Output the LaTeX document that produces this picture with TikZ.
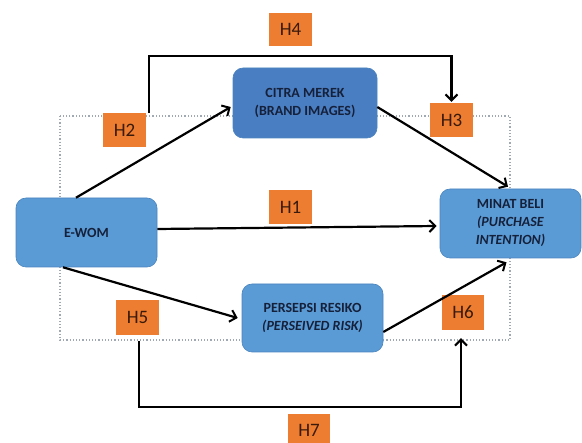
\documentclass[tikz,border=0pt]{standalone}
\usepackage{fontspec}
\setmainfont{Carlito}
\usetikzlibrary{arrows.meta}
\definecolor{boxblue}{HTML}{5B9BD5}
\definecolor{boxdark}{HTML}{4A7EC2}
\definecolor{boxline}{HTML}{4A84BF}
\definecolor{boxtext}{HTML}{15203A}
\definecolor{hyporange}{HTML}{ED7D31}
\definecolor{hyptext}{HTML}{3A1A0A}
\definecolor{frame}{HTML}{A0A8B2}
\begin{document}
\begin{tikzpicture}[x=1pt,y=-1pt,
    varbox/.style={draw=boxline,line width=0.6pt,fill=boxblue,rounded corners=10pt,
      minimum width=141pt,minimum height=69pt,inner sep=0pt,align=center,
      text=boxtext,font=\bfseries\fontsize{14}{18}\selectfont},
    hyp/.style={fill=hyporange,minimum width=43pt,minimum height=34pt,inner sep=0pt,
      text=hyptext,font=\fontsize{19}{19}\selectfont},
    link/.style={line width=2.2pt,-{Straight Barb[length=6pt,width=12pt,line width=2pt]}}]
                  \useasboundingbox (0,0) rectangle (582,443);
                  \draw [frame,dotted,line width=1.2pt] (60,116) rectangle (510,340);
                  \node [varbox] (ewom) at (86.5,232.5) {E-WOM};
                  \node [varbox,fill=boxdark,minimum width=144pt,minimum height=70pt] (citra) at (305,103) {CITRA MEREK\\(BRAND IMAGES)};
                  \node [varbox] (minat) at (510.5,223.5) {MINAT BELI\\\textit{(PURCHASE}\\\textit{INTENTION)}};
                  \node [varbox,minimum height=68pt] (risk) at (312.5,318) {PERSEPSI RESIKO\\\textit{(PERSEIVED RISK)}};
                  \node [hyp] (H1) at (290.5,207) {H1};
                  \node [hyp] (H2) at (124.5,130) {H2};
                  \node [hyp] (H3) at (451.5,120) {H3};
                  \node [hyp,minimum height=33pt] (H4) at (290.5,29.5) {H4};
                  \node [hyp,minimum height=35pt] (H5) at (137.5,317.5) {H5};
                  \node [hyp,minimum width=42pt,minimum height=35pt] (H6) at (463,312.5) {H6};
                  \node [hyp,minimum width=42pt,minimum height=32pt] (H7) at (309,430) {H7};
                  \coordinate (h4top) at (0,56);
                  \coordinate (h7low) at (0,407);
                  \coordinate (h4start) at ([xshift=3pt]H2.north east);
                  \coordinate (h7start) at ([xshift=1.5pt,yshift=-6pt]H5.south);
                  \draw [link] ([xshift=-10.5pt]ewom.north) -- ([xshift=-2pt,yshift=-4pt]citra.west);
                  \draw [link] ([yshift=-4pt]citra.east) -- ([xshift=-2.5pt,yshift=2pt]minat.north);
                  \draw [link] ([yshift=3.5pt]ewom.east) -- ([xshift=-3pt,yshift=-2.5pt]minat.west);
                  \draw [link] ([xshift=-23.5pt]ewom.south) -- ([xshift=-4pt]risk.west);
                  \draw [link] ([yshift=-14pt]risk.east) -- ([xshift=-4pt,yshift=-4pt]minat.south);
                  \draw [link] (h4start) -- (h4start |- h4top) -| ([yshift=1pt]H3.north);
                  \draw [link] (h7start) -- (h7start |- h7low) -| ([xshift=-2pt,yshift=-8pt]H6.south);
              \end{tikzpicture}
\end{document}
